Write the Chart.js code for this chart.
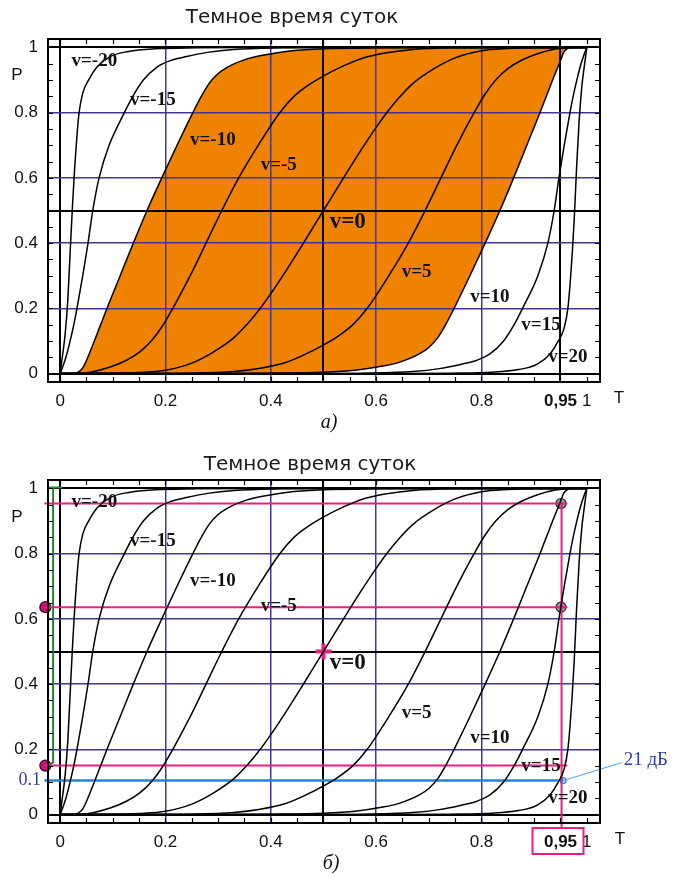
<!DOCTYPE html>
<html><head><meta charset="utf-8">
<script src="https://cdn.jsdelivr.net/npm/chart.js@4.4.0/dist/chart.umd.min.js"></script>
<style>
body{margin:0;background:#fff;width:677px;height:876px;overflow:hidden;position:relative}
canvas{position:absolute;left:0}
#c1{top:0}#c2{top:440px}
</style></head><body>
<canvas id="c1" width="677" height="440"></canvas>
<canvas id="c2" width="677" height="436"></canvas>
<script>
// ---------- data (T, P) ----------
const vM20 = [[0,0],[0.005,0.06],[0.0095,0.12],[0.0146,0.225],[0.019,0.37],[0.024,0.53],[0.028,0.64],[0.032,0.73],[0.036,0.8],[0.043,0.86],[0.054,0.9],[0.07,0.94],[0.095,0.972],[0.13,0.988],[0.18,0.996],[0.26,0.999],[0.35,1],[1,1]];
const vM15 = [[0,0],[0.006,0.025],[0.011,0.05],[0.019,0.1],[0.026,0.15],[0.032,0.2],[0.043,0.3],[0.053,0.4],[0.062,0.5],[0.074,0.6],[0.093,0.7],[0.122,0.8],[0.138,0.85],[0.158,0.9],[0.184,0.94],[0.21,0.96],[0.24,0.972],[0.28,0.985],[0.33,0.994],[0.42,0.999],[0.5,1],[1,1]];
const vM10 = [[0,0],[0.025,0],[0.035,0.005],[0.042,0.015],[0.05,0.04],[0.065,0.1],[0.077,0.15],[0.089,0.2],[0.114,0.3],[0.139,0.4],[0.165,0.5],[0.193,0.6],[0.222,0.7],[0.252,0.8],[0.268,0.85],[0.283,0.89],[0.3,0.92],[0.318,0.94],[0.355,0.965],[0.39,0.978],[0.44,0.99],[0.5,0.996],[0.6,0.999],[0.7,1],[1,1]];
const vM5  = [[0,0],[0.03,0],[0.06,0.005],[0.095,0.02],[0.125,0.04],[0.15,0.065],[0.173,0.1],[0.194,0.145],[0.214,0.2],[0.247,0.3],[0.277,0.4],[0.307,0.5],[0.339,0.6],[0.376,0.7],[0.417,0.8],[0.444,0.85],[0.472,0.885],[0.497,0.91],[0.54,0.945],[0.575,0.968],[0.62,0.984],[0.67,0.994],[0.75,0.999],[0.85,1],[1,1]];
const v0   = [[0,0],[0.1,0.0005],[0.15,0.003],[0.2,0.01],[0.25,0.032],[0.29,0.065],[0.33,0.11],[0.36,0.16],[0.38,0.2],[0.4,0.245],[0.43,0.318],[0.46,0.395],[0.5,0.5],[0.54,0.605],[0.57,0.682],[0.6,0.755],[0.62,0.8],[0.64,0.84],[0.67,0.89],[0.71,0.935],[0.75,0.968],[0.8,0.99],[0.85,0.997],[0.9,0.9995],[1,1]];
const v5   = [[0,0],[0.15,0],[0.25,0.001],[0.33,0.006],[0.38,0.016],[0.425,0.032],[0.46,0.055],[0.503,0.09],[0.528,0.115],[0.556,0.15],[0.583,0.2],[0.624,0.3],[0.661,0.4],[0.693,0.5],[0.723,0.6],[0.753,0.7],[0.786,0.8],[0.806,0.855],[0.827,0.9],[0.85,0.935],[0.875,0.96],[0.905,0.98],[0.94,0.995],[0.97,1],[1,1]];
const v10  = [[0,0],[0.3,0],[0.4,0.001],[0.5,0.004],[0.56,0.01],[0.61,0.022],[0.645,0.035],[0.682,0.06],[0.7,0.08],[0.717,0.11],[0.732,0.15],[0.748,0.2],[0.778,0.3],[0.807,0.4],[0.835,0.5],[0.861,0.6],[0.886,0.7],[0.911,0.8],[0.923,0.85],[0.935,0.9],[0.95,0.96],[0.956,0.985],[0.962,0.996],[0.97,1],[1,1]];
const v15  = [[0,0],[0.5,0],[0.58,0.001],[0.67,0.006],[0.72,0.015],[0.76,0.028],[0.79,0.04],[0.816,0.06],[0.842,0.1],[0.862,0.15],[0.878,0.2],[0.907,0.3],[0.926,0.4],[0.938,0.5],[0.947,0.6],[0.957,0.7],[0.968,0.8],[0.974,0.85],[0.981,0.9],[0.989,0.95],[0.994,0.975],[1,1]];
const v20  = [[0,0],[0.65,0],[0.74,0.001],[0.82,0.004],[0.87,0.012],[0.905,0.028],[0.93,0.06],[0.946,0.1],[0.957,0.14],[0.964,0.2],[0.968,0.27],[0.972,0.36],[0.976,0.47],[0.9805,0.63],[0.9854,0.775],[0.9905,0.88],[0.995,0.94],[1,1]];

const curves = [vM20, vM15, vM10, vM5, v0, v5, v10, v15, v20];
const curveNames = ['v=-20','v=-15','v=-10','v=-5','v=0','v=5','v=10','v=15','v=20'];
const curveLabelT = [0.065, 0.176, 0.29, 0.415, 0.546, 0.677, 0.816, 0.913, 0.964];
const curveLabelP = [0.957, 0.84, 0.717, 0.64, 0.465, 0.31, 0.234, 0.148, 0.05];

const tickValues = [0,0.05,0.1,0.15,0.2,0.25,0.3,0.35,0.4,0.45,0.5,0.55,0.6,0.65,0.7,0.75,0.8,0.85,0.9,0.95,1];
const xTickLabels = {'0':'0','0.2':'0.2','0.4':'0.4','0.6':'0.6','0.8':'0.8','0.95':'0,95','1':'1'};
const yTickLabels = {'0':'0','0.2':'0.2','0.4':'0.4','0.6':'0.6','0.8':'0.8','1':'1'};
const purpleGrid = [0.2,0.4,0.6,0.8];

// annotations of panel б)
const pinkLevelsP = [0.954, 0.636, 0.15];
const pinkLineT = [-0.03, 0.963];
const pinkVerticalT = 0.952;
const pinkVerticalP = [0.954, -0.04];
const rightMarkersP = [0.954, 0.636];
const leftMarkerT = -0.028;
const centerPoint = [0.5, 0.5];
const blueLevelP = 0.104;
const blueLineT = [-0.03, 0.955];
const leaderEnd = [1.066, 0.159];
const greenT = -0.0133;
const greenP = [1.003, 0.16];
const greenCapT = [-0.025, 0.004];

// ---------- styling ----------
const ORANGE = '#EF8200', PURPLE = '#45358f', PINK = '#ea1f7f', BLUE = '#1f86d6', BLUE_TXT = '#2e3fa3', GREEN = '#1f8a30';
const r2 = v => Math.round(v * 100) / 100;
const pts = arr => arr.map(p => ({x: p[0], y: p[1]}));

Chart.defaults.font.family = '"Liberation Sans", Arial, sans-serif';
Chart.defaults.color = '#111';

const framePlugin = {
  id: 'frame',
  afterDatasetsDraw(chart) {
    const {ctx, chartArea: a, scales: {x, y}} = chart;
    ctx.save();
    ctx.strokeStyle = '#000'; ctx.lineWidth = 1.2;
    ctx.beginPath();
    tickValues.forEach(v => {
      const px = Math.round(x.getPixelForValue(v)) + 0.5;
      ctx.moveTo(px, a.bottom); ctx.lineTo(px, a.bottom - 5);
      ctx.moveTo(px, a.top); ctx.lineTo(px, a.top + 5);
      const py = Math.round(y.getPixelForValue(v)) + 0.5;
      ctx.moveTo(a.left, py); ctx.lineTo(a.left + 5, py);
      ctx.moveTo(a.right, py); ctx.lineTo(a.right - 5, py);
    });
    ctx.stroke();
    ctx.lineWidth = 2;
    ctx.strokeRect(a.left, a.top, a.right - a.left, a.bottom - a.top);
    ctx.restore();
  }
};

const textPlugin = {
  id: 'texts',
  afterDatasetsDraw(chart, args, opts) {
    const {ctx, chartArea: a, scales: {x, y}} = chart;
    ctx.save();
    ctx.textBaseline = 'middle';
    (opts.items || []).forEach(it => {
      ctx.font = it.font;
      ctx.fillStyle = it.color || '#111';
      ctx.textAlign = it.align || 'center';
      let px, py;
      if (it.data) { px = x.getPixelForValue(it.data[0]) + (it.dx || 0); py = y.getPixelForValue(it.data[1]); }
      else { px = it.px[0]; py = it.px[1]; }
      ctx.fillText(it.text, px, py);
    });
    if (opts.box) {
      const px = x.getPixelForValue(opts.box);
      ctx.strokeStyle = PINK; ctx.lineWidth = 2;
      ctx.strokeRect(px - 28, a.bottom + 5, 51, 26);
    }
    ctx.restore();
  }
};

function gridColor(blackList) {
  return ctx => {
    if (!ctx.tick) return 'rgba(0,0,0,0)';
    const v = r2(ctx.tick.value);
    if (blackList.includes(v)) return '#000';
    if (purpleGrid.includes(v)) return PURPLE;
    return 'rgba(0,0,0,0)';
  };
}
function gridWidth(blackList) {
  return ctx => (ctx.tick && blackList.includes(r2(ctx.tick.value))) ? 2 : 1.5;
}

function buildChart(id, cfg) {
  const datasets = curves.map(c => ({
    data: pts(c), showLine: true, borderColor: '#000', borderWidth: 1.5,
    pointRadius: 0, cubicInterpolationMode: 'monotone', fill: false
  }));
  if (cfg.fill) { datasets[2].fill = 6; datasets[2].backgroundColor = ORANGE; }
  (cfg.extra || []).forEach(d => datasets.push(d));

  const labelItems = curveNames.map((n, i) => ({
    text: n, data: [curveLabelT[i], curveLabelP[i]],
    font: (n === 'v=0' ? 'bold 23px' : 'bold 19px') + ' "Liberation Serif", serif'
  }));

  return new Chart(document.getElementById(id), {
    type: 'scatter',
    data: {datasets},
    options: {
      responsive: false, animation: false, devicePixelRatio: 1, events: [],
      layout: {padding: {top: cfg.top, right: 77, left: 0, bottom: 0}},
      plugins: {
        legend: {display: false}, tooltip: {enabled: false}, title: {display: false},
        filler: {drawTime: 'beforeDraw'},
        texts: {items: labelItems.concat(cfg.texts), box: cfg.box}
      },
      scales: {
        x: {
          type: 'linear', min: -0.023, max: 1.025,
          afterBuildTicks: s => { s.ticks = tickValues.map(v => ({value: v})); },
          afterFit: s => { s.height = cfg.xh; },
          ticks: {
            autoSkip: false, maxRotation: 0, minRotation: 0, padding: 9, color: '#111',
            font: ctx => ({family: '"Liberation Sans", Arial, sans-serif', size: 17,
              weight: (ctx.tick && r2(ctx.tick.value) === 0.95) ? 'bold' : 'normal'}),
            callback: v => xTickLabels[String(r2(v))] || ''
          },
          grid: {color: gridColor(cfg.blackX), lineWidth: gridWidth(cfg.blackX), drawTicks: false},
          border: {display: false}
        },
        y: {
          type: 'linear', min: -0.026, max: 1.026,
          afterBuildTicks: s => { s.ticks = tickValues.map(v => ({value: v})); },
          afterFit: s => { s.width = 48; },
          ticks: {
            autoSkip: false, padding: 10, color: '#111',
            font: {family: '"Liberation Sans", Arial, sans-serif', size: 17},
            callback: v => yTickLabels[String(r2(v))] || ''
          },
          grid: {color: gridColor([0, 0.5, 1]), lineWidth: gridWidth([0, 0.5, 1]), drawTicks: false},
          border: {display: false}
        }
      }
    },
    plugins: [framePlugin, textPlugin]
  });
}

const titleFont = '20px "DejaVu Sans", Verdana, sans-serif';
const axisFont = '17px "Liberation Sans", Arial, sans-serif';
const panelFont = 'italic 20px "Liberation Serif", serif';

// ---------- panel а) ----------
buildChart('c1', {
  top: 39, xh: 58, fill: true, blackX: [0, 0.5, 0.95],
  texts: [
    {text: 'Темное время суток', px: [292, 18], font: titleFont, color: '#1a1a1a'},
    {text: 'P', px: [17, 75], font: axisFont},
    {text: 'T', px: [619, 398], font: axisFont},
    {text: 'а)', px: [329, 423], font: panelFont}
  ]
});

// ---------- panel б) ----------
const line = (data, color, w) => ({data: pts(data), showLine: true, borderColor: color, borderWidth: w,
  pointRadius: 0, fill: false, clip: false});
const extra = [];
pinkLevelsP.forEach(p => extra.push(line([[pinkLineT[0], p], [pinkLineT[1], p]], PINK, 2)));
extra.push(line([[pinkVerticalT, pinkVerticalP[0]], [pinkVerticalT, pinkVerticalP[1]]], PINK, 2));
extra.push(line([[blueLineT[0], blueLevelP], [blueLineT[1], blueLevelP]], BLUE, 2.5));
extra.push(line([[blueLineT[1], blueLevelP], leaderEnd], '#4aa3e0', 1));
extra.push(line([[greenT, greenP[0]], [greenT, greenP[1]], [leftMarkerT + 0.006, greenP[1] - 0.008]], GREEN, 2));
extra.push(line([[greenCapT[0], greenP[0]], [greenCapT[1], greenP[0]]], GREEN, 2));
extra.push({data: pts(pinkLevelsP.map(p => [leftMarkerT, p])), showLine: false, pointRadius: 5.5,
  pointBackgroundColor: '#c8107a', pointBorderColor: '#3a0322', pointBorderWidth: 1.2, clip: false});
extra.push({data: pts(rightMarkersP.map(p => [pinkVerticalT - 0.001, p])), showLine: false, pointRadius: 5,
  pointBackgroundColor: 'rgba(90,60,80,0.55)', pointBorderColor: '#222', pointBorderWidth: 1.2, clip: false});
extra.push({data: pts([centerPoint]), showLine: false, pointStyle: 'cross', pointRadius: 8,
  pointBorderColor: PINK, pointBorderWidth: 4, clip: false});
extra.push({data: pts([[blueLineT[1], blueLevelP]]), showLine: false, pointRadius: 3,
  pointBackgroundColor: '#bfe0f7', pointBorderColor: BLUE, pointBorderWidth: 1.2, clip: false});

buildChart('c2', {
  top: 40, xh: 53, fill: false, blackX: [0, 0.5], box: 0.95, extra,
  texts: [
    {text: 'Темное время суток', px: [310, 25], font: titleFont, color: '#1a1a1a'},
    {text: 'P', px: [17, 77], font: axisFont},
    {text: 'T', px: [620, 399], font: axisFont},
    {text: 'б)', px: [331, 424], font: panelFont},
    {text: '0.1', data: [-0.023, blueLevelP], dx: -7, align: 'right', font: '18px "Liberation Serif", serif', color: BLUE_TXT},
    {text: '21 дБ', data: [1.07, 0.168], align: 'left', font: '19px "Liberation Serif", serif', color: BLUE_TXT}
  ]
});
</script>
</body></html>
